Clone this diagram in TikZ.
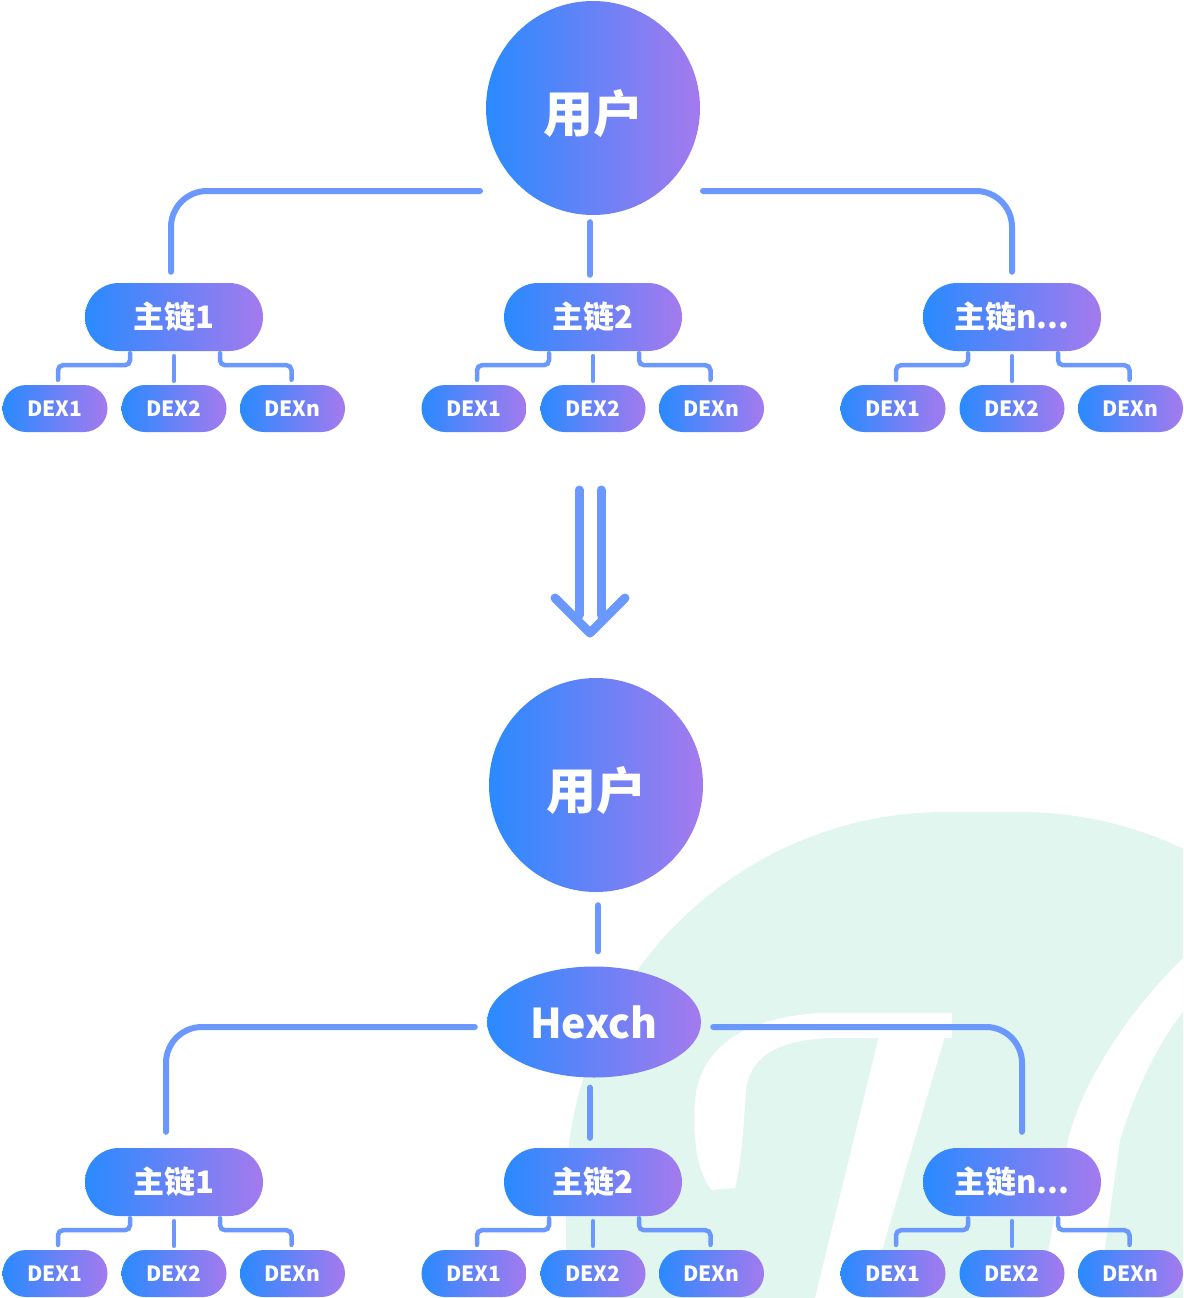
\documentclass[tikz,border=0pt]{standalone}
\usepackage{fontspec}
\setmainfont{Noto Sans CJK SC}
\usetikzlibrary{calc,shapes.geometric}
\definecolor{gA}{RGB}{42,138,255}
\definecolor{gB}{RGB}{164,122,238}
\definecolor{ln}{RGB}{106,152,255}
\definecolor{mint}{RGB}{224,246,238}
\tikzset{
 grad/.style={left color=gA, right color=gB, draw=none, text=white},
 user/.style={grad, circle, minimum size=214pt, inner sep=0pt},
 usertext/.style={text=white, inner sep=0pt, font=\bfseries\fontsize{50}{50}\selectfont},
 chainbox/.style={grad, rectangle, rounded corners=34pt, minimum width=178pt, minimum height=68pt, inner sep=0pt, font=\bfseries\fontsize{31}{31}\selectfont},
 dexbox/.style={grad, rectangle, rounded corners=23.5pt, minimum width=105pt, minimum height=47pt, inner sep=0pt, font=\bfseries\fontsize{21}{21}\selectfont},
 hexbox/.style={grad, ellipse, minimum width=214pt, minimum height=111pt, inner sep=0pt, font=\bfseries\fontsize{41}{41}\selectfont},
 mainline/.style={draw=ln, line width=6pt, line cap=round, rounded corners=36pt},
 subline/.style={draw=ln, line width=4.5pt, line cap=round, rounded corners=5pt},
 arrowline/.style={draw=ln, line width=9pt, line cap=round, line join=round},
}
\newcommand\chaingroup[4]{%
 \node[chainbox] (#1) at (#2,#3) {#4};
 \node[dexbox] (#1a) at ($(#1)+(-119,91.5)$) {DEX1};
 \node[dexbox] (#1b) at ($(#1)+(0,91.5)$) {DEX2};
 \node[dexbox] (#1c) at ($(#1)+(118.5,91.5)$) {DEXn};
 \draw[subline] ($(#1.south)+(-44,2)$) -- ++(0,12) -| ($(#1a.north)+(3,-5)$);
 \draw[subline] ($(#1.south)+(0,5)$) -- ($(#1b.north)+(0,-4)$);
 \draw[subline] ($(#1.south)+(46,2)$) -- ++(0,12) -| ($(#1c.north)+(-1,-5)$);
}
\begin{document}
\begin{tikzpicture}[x=1pt,y=-1pt]
\useasboundingbox (0,0) rectangle (1183,1298);
% watermark
\begin{scope}
 \clip (0,0) rectangle (1183,1298);
 \fill[mint, rounded corners=380pt] (566,812) rectangle (1400,1700);
 \fill[white] (952,1013) -- (820,1013) .. controls (740,1018) and (700,1050) .. (695,1100) .. controls (692,1140) and (698,1175) .. (712,1190) -- (735,1188) .. controls (742,1160) and (744,1120) .. (746,1090) .. controls (750,1055) and (780,1040) .. (830,1038) -- (952,1038) -- cycle;
 \fill[white] (879,1036) -- (945,1036) -- (868,1298) -- (815,1298) -- cycle;
 \fill[white] (1183,958) .. controls (1120,1020) and (1080,1090) .. (1068,1140) -- (1040,1298) -- (1098,1298) -- (1120,1140) .. controls (1135,1090) and (1160,1040) .. (1183,1012) -- cycle;
\end{scope}
% top diagram
\node[user] (u1) at (593,108) {};
\node[usertext] (u1t) at ($(u1)+(0,6)$) {用户};
\chaingroup{c1}{174}{317}{主链1}
\chaingroup{c2}{593}{317}{主链2}
\chaingroup{c3}{1012}{317}{主链n...}
\draw[mainline] ($(u1)+(-113,83)$) -| ($(c1.north)+(-3,-11)$);
\draw[mainline] ($(u1)+(110,83)$) -| ($(c3.north)+(0,-11)$);
\draw[mainline] ($(u1.south)+(-3,7)$) -- ($(c2.north)+(-3,-8)$);
% arrow
\coordinate (ar) at (590,490);
\draw[arrowline] ($(ar)+(-11,0)$) -- ++(0,125);
\draw[arrowline] ($(ar)+(11,0)$) -- ++(0,125);
\draw[arrowline] ($(ar)+(-35,108)$) -- ($(ar)+(0,143)$) -- ($(ar)+(35,108)$);
% bottom diagram
\node[user] (u2) at (596,785) {};
\node[usertext] (u2t) at ($(u2)+(0,6)$) {用户};
\node[hexbox] (hx) at (594,1022) {Hexch};
\chaingroup{c4}{174}{1182}{主链1}
\chaingroup{c5}{593}{1182}{主链2}
\chaingroup{c6}{1012}{1182}{主链n...}
\draw[mainline] ($(u2.south)+(2,13)$) -- ($(hx.north)+(4,-15)$);
\draw[mainline] ($(hx.west)+(-12,5)$) -| ($(c4.north)+(-8,-16)$);
\draw[mainline] ($(hx.east)+(12,5)$) -| ($(c6.north)+(10,-16)$);
\draw[mainline] ($(hx.south)+(-4,10)$) -- ($(c5.north)+(-3,-10)$);
\end{tikzpicture}
\end{document}
